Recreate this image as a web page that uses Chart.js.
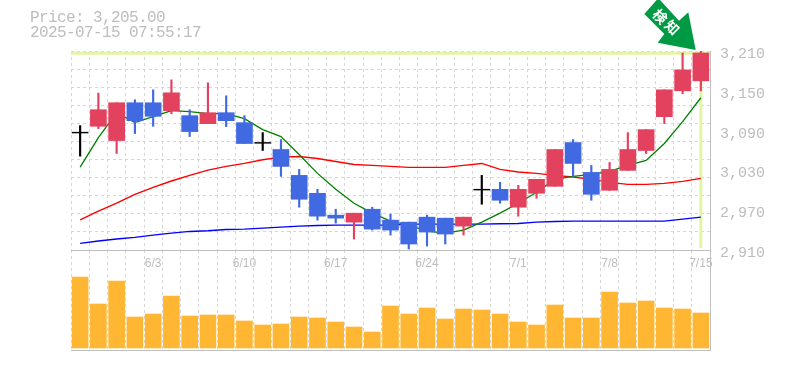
<!DOCTYPE html>
<html>
<head>
<meta charset="utf-8">
<script src="https://cdn.jsdelivr.net/npm/chart.js@4"></script>
<style>
  html, body { margin: 0; background: #fff; overflow: hidden; }
  #wrap { position: relative; width: 785px; height: 370px; }
  canvas { position: absolute; left: 0; }
  #priceChart { top: 0; z-index: 2; }
  #volChart { top: 250px; z-index: 1; }
  .info { position: absolute; left: 30px; z-index: 3; font: 16px/15px "Liberation Mono", monospace; letter-spacing: -0.6px; color: #bdbdbd; white-space: pre; }
  #arrow { position: absolute; left: 640px; top: 0; z-index: 4; }
</style>
</head>
<body>
<div id="wrap">
  <canvas id="volChart" width="785" height="120"></canvas>
  <canvas id="priceChart" width="785" height="270"></canvas>
  <div class="info" style="top:11px">Price: 3,205.00</div>
  <div class="info" style="top:26px">2025-07-15 07:55:17</div>
  <svg id="arrow" width="65" height="55" viewBox="640 0 65 55">
    <polygon points="656.7,0 644.3,14 664.3,34 657.7,42.7 695.7,50 688.3,12.3 679,20.7 660,0" fill="#009944"/>
    <text x="660.7" y="16" fill="#fff" font-family="Noto Sans CJK JP" font-weight="700" font-size="14" text-anchor="middle" dominant-baseline="central" transform="rotate(45 660.7 16)">検</text>
    <text x="672.7" y="27" fill="#fff" font-family="Noto Sans CJK JP" font-weight="700" font-size="14" text-anchor="middle" dominant-baseline="central" transform="rotate(45 672.7 27)">知</text>
  </svg>
</div>
<script>
const dates = ["5/28","5/29","5/30","6/2","6/3","6/4","6/5","6/6","6/9","6/10","6/11","6/12","6/13","6/16","6/17","6/18","6/19","6/20","6/23","6/24","6/25","6/26","6/27","6/30","7/1","7/2","7/3","7/4","7/7","7/8","7/9","7/10","7/11","7/14","7/15"];
const dateLabels = ["6/3","6/10","6/17","6/24","7/1","7/8","7/15"];
const priceTicks = [2910, 2970, 3030, 3090, 3150, 3210];

const opens  = [3087,3096.5,3075,3132,3132,3120,3112.5,3100.5,3117,3102,3071.5,3061.5,3022.5,2995.5,2962.5,2952,2971.5,2955,2952,2959.5,2958,2946,3001,3001.5,2974.5,2995.5,3006,3072,3027,3000,3030,3060,3111,3150,3165];
const closes = [3087,3121.5,3132,3105,3111.5,3147,3088.5,3117,3105,3070.5,3071.5,3036,2986.5,2961,2958,2965.5,2941.5,2940,2919,2937,2934,2959.5,3001,2985,3001.5,3016.5,3061.5,3040.5,2994,3031.5,3061.5,3091.5,3151.5,3181.5,3207];
const highs  = [3097.5,3146.5,3132,3136.5,3151.5,3166.5,3121.5,3162,3142.5,3112.5,3087,3076.5,3031.5,3001.5,2971.5,2965.5,2974.5,2964,2952,2962.5,2958,2959.5,3022.5,3012,3007.5,3016.5,3061.5,3076.5,3037.5,3042,3087,3091.5,3151.5,3207,3211.5];
const lows   = [3051.5,3093,3055.5,3085.5,3096.5,3115.5,3081,3100.5,3096,3070.5,3060,3021,2974.5,2955,2950.5,2926.5,2940,2932.5,2911.5,2916,2919,2932.5,2979,2980.5,2961,2988,3006,3021,2985,3000,3030,3055.5,3100.5,3145.5,3150];

const maShort = [3035,3079.5,3117,3102,3111,3120,3118.5,3115.5,3115.5,3108,3091.5,3081,3054,3025.5,3001.5,2980.5,2965.5,2953.5,2947.5,2938.5,2935.5,2940,2952,2965.5,2980.5,2997,3016.5,3021,3024,3028.5,3037.5,3045,3070.5,3103.5,3139.5];
const maMid   = [2955.5,2968.5,2980.5,2994,3004.5,3014,3022.5,3030.5,3036,3040.5,3046,3050,3051,3048,3043.5,3039,3037.5,3036,3034.5,3034.5,3034.5,3037.5,3040.5,3031.5,3027.5,3025.5,3022.5,3020,3016.5,3012,3009,3009,3010.5,3013.5,3018];
const maLong  = [2920,2923.5,2926.5,2929,2932.5,2935.5,2938,2939,2941,2941.5,2943,2944.5,2946,2947,2947.5,2947.5,2947.5,2947.5,2949,2949,2949,2949,2949,2949.5,2950,2952,2953,2953.5,2953.5,2953.5,2953.5,2953.5,2953.5,2956.5,2959.5];

const volumes = [71,44,67,31,34,52,32,33,33,27,23,24,31,30,26,21,16,42,34,40,29,39,38,34,26,23,43,30,30,56,45,47,40,39,35];
const lastPrice = 3206.5;

const UP = "#e3425f", DOWN = "#4169e1", DOJI = "#000000";
const GRID = "#d6d6d6", AXIS = "#bfbfbf", TEXT = "#bdbdbd";
const mono = "'Liberation Mono', monospace";

const candleColor = opens.map((o, i) => closes[i] > o ? UP : closes[i] < o ? DOWN : DOJI);
// a doji has no height, give it about one pixel so the bar shows
const bodies = opens.map((o, i) => o === closes[i] ? [o - 0.6, o + 0.6] : [o, closes[i]]);
const wicks = lows.map((l, i) => [l, highs[i]]);

const highlight = {
  id: "highlight",
  beforeDatasetsDraw(chart) {
    const { ctx, chartArea, scales } = chart;
    const py = scales.y.getPixelForValue(lastPrice);
    const px = scales.x.getPixelForValue(dates.length - 1);
    ctx.save();
    ctx.strokeStyle = "#e3f5a3";
    ctx.lineWidth = 3;
    ctx.beginPath();
    ctx.moveTo(chartArea.left, py);
    ctx.lineTo(chartArea.right, py);
    ctx.moveTo(px, py);
    ctx.lineTo(px, chartArea.bottom - 2);
    ctx.stroke();
    ctx.restore();
  }
};

const lineSet = (data, color, width) => ({
  type: "line", data, borderColor: color, borderWidth: width,
  pointRadius: 0, tension: 0, order: 3, yAxisID: "y"
});

new Chart(document.getElementById("priceChart"), {
  data: {
    labels: dates,
    datasets: [
      { type: "bar", data: bodies, backgroundColor: candleColor, barThickness: 16, grouped: false, order: 1, yAxisID: "y" },
      { type: "bar", data: wicks, backgroundColor: candleColor, barThickness: 1.5, grouped: false, order: 2, yAxisID: "y" },
      lineSet(maShort, "#008000", 1.3),
      lineSet(maMid, "#ff0000", 1.4),
      lineSet(maLong, "#0000ff", 1.4)
    ]
  },
  options: {
    responsive: false,
    animation: false,
    layout: { padding: { left: 71, top: 51, right: 0, bottom: 0 } },
    plugins: { legend: { display: false }, tooltip: { enabled: false } },
    scales: {
      x: {
        offset: true,
        afterFit: s => { s.height = 20; },
        border: { color: AXIS, dash: [3, 3] },
        grid: { offset: true, color: GRID, drawTicks: false },
        ticks: {
          autoSkip: false, maxRotation: 0, padding: 6, color: TEXT,
          font: { family: "'Liberation Sans', sans-serif", size: 12 },
          callback(v) { const d = this.getLabelForValue(v); return dateLabels.includes(d) ? d : ""; }
        }
      },
      y: {
        position: "right",
        min: 2910, max: 3210,
        afterFit: s => { s.width = 75; },
        afterBuildTicks: s => { s.ticks = priceTicks.map(value => ({ value })); },
        border: { color: AXIS },
        grid: { display: false, drawTicks: false },
        ticks: {
          padding: 10, labelOffset: 3, color: TEXT,
          font: { family: mono, size: 15 },
          callback: v => v.toLocaleString("en-US")
        }
      },
      // horizontal grid runs on its own 18px rhythm, not with the price labels
      yGrid: {
        position: "left",
        min: 0, max: 11,
        afterFit: s => { s.width = 0; },
        border: { display: false, dash: [3, 3] },
        grid: { color: GRID, drawTicks: false },
        ticks: { display: false, stepSize: 1 }
      }
    }
  },
  plugins: [highlight]
});

new Chart(document.getElementById("volChart"), {
  data: {
    labels: dates,
    datasets: [{ type: "bar", data: volumes, backgroundColor: "#ffb733", barThickness: 16, yAxisID: "y" }]
  },
  options: {
    responsive: false,
    animation: false,
    layout: { padding: { left: 71, top: 0, right: 0, bottom: 20 } },
    plugins: { legend: { display: false }, tooltip: { enabled: false } },
    scales: {
      x: {
        offset: true,
        afterFit: s => { s.height = 0; },
        border: { color: AXIS, dash: [3, 3] },
        grid: { offset: true, color: GRID, drawTicks: false },
        ticks: { display: false, autoSkip: false }
      },
      y: {
        position: "right",
        min: -2, max: 98,
        afterFit: s => { s.width = 75; },
        border: { color: AXIS },
        grid: { display: false, drawTicks: false },
        ticks: { display: false }
      }
    }
  }
});
</script>
</body>
</html>
